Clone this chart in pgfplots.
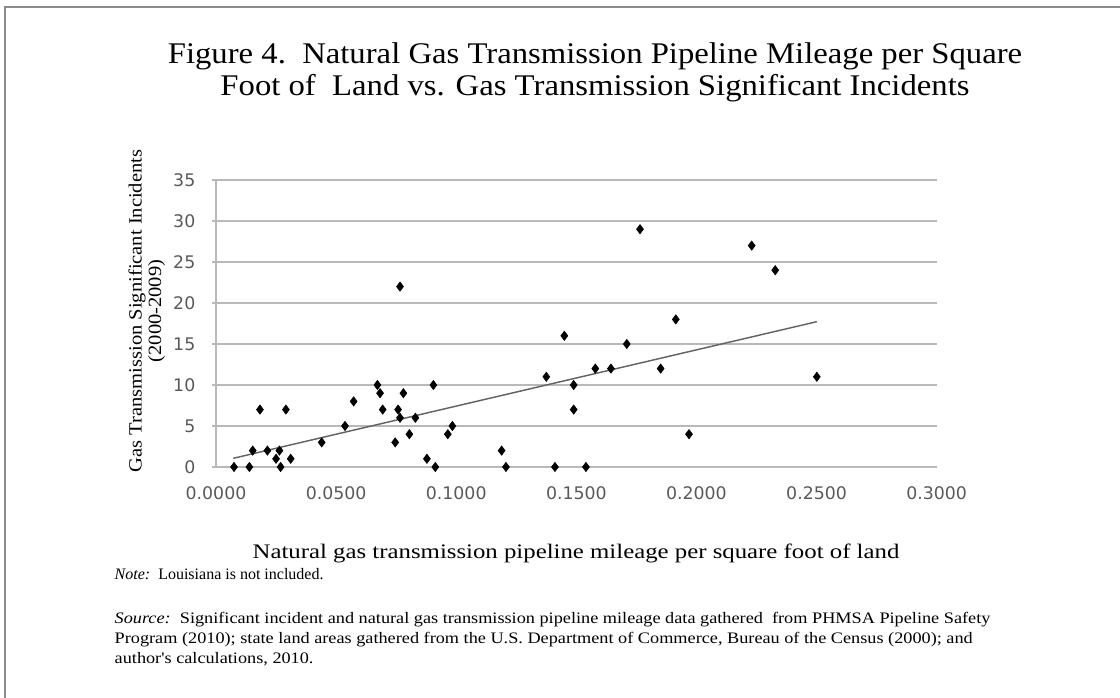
\documentclass[border=0pt]{standalone}
\usepackage{fontspec}
\setmainfont{Liberation Serif}
\newfontfamily\ticfont{DejaVu Sans}
\newfontfamily\titlefont[FakeStretch=1.09]{Liberation Serif}
\newfontfamily\ylabfont[FakeStretch=1.1]{Liberation Serif}
\newfontfamily\xlabfont[FakeStretch=1.2]{Liberation Serif}
\newfontfamily\srcfont[FakeStretch=1.14]{Liberation Serif}
\usepackage{pgfplots}
\pgfplotsset{compat=1.18}
\definecolor{gridgray}{RGB}{185,185,185}
\definecolor{ticktext}{RGB}{89,89,89}
\definecolor{trend}{RGB}{100,100,100}
\definecolor{framegray}{RGB}{140,140,140}
\begin{document}
\begin{tikzpicture}
\path[use as bounding box] (0,0) rectangle (840pt,523.5pt);
\draw[framegray, line width=1.5pt] (3.75pt,0pt) -- (3.75pt,518.25pt) -- (840pt,518.25pt);
\begin{axis}[
  at={(162pt,173.25pt)}, anchor=south west,
  scale only axis, width=540.5pt, height=215.25pt,
  xmin=0, xmax=0.3, ymin=0, ymax=35,
  xtick={0,0.05,0.1,0.15,0.2,0.25,0.3},
  xticklabels={0.0000,0.0500,0.1000,0.1500,0.2000,0.2500,0.3000},
  ytick={0,5,10,15,20,25,30,35},
  yticklabels={0,5,10,15,20,25,30,35},
  axis x line*=bottom, axis y line*=left,
  axis line style={gridgray, line width=1.1pt},
  ymajorgrids, grid style={gridgray, line width=1.1pt},
  xtick style={draw=none},
  ytick style={draw=gridgray, line width=1.1pt},
  tick align=outside, major tick length=3pt,
  tick label style={font=\ticfont\fontsize{13}{15}\selectfont, text=ticktext},
  xticklabel style={yshift=-8pt},
  yticklabel style={xshift=-9pt},
  clip=false,
]
\addplot[only marks, mark=diamond*, mark size=3.5pt, black] coordinates {
(0.0075,0) (0.0139,0) (0.0153,2) (0.0183,7) (0.0214,2) (0.0250,1) (0.0264,2)
(0.0269,0) (0.0291,7) (0.0311,1) (0.0440,3) (0.0537,5) (0.0573,8) (0.0672,10)
(0.0683,9) (0.0694,7) (0.0746,3) (0.0758,7) (0.0766,22) (0.0766,6) (0.0780,9)
(0.0805,4) (0.0830,6) (0.0878,1) (0.0905,10) (0.0913,0) (0.0965,4) (0.0984,5)
(0.1189,2) (0.1207,0) (0.1375,11) (0.1411,0) (0.1450,16) (0.1489,7) (0.1489,10)
(0.1540,0) (0.1579,12) (0.1644,12) (0.1710,15) (0.1765,29) (0.1851,12) (0.1914,18)
(0.1969,4) (0.2230,27) (0.2328,24) (0.2501,11)
};
\addplot[trend, line width=1.1pt] coordinates {(0.0072,1.06) (0.2501,17.72)};
\end{axis}
% title
\node[anchor=base, font=\titlefont\fontsize{22.5}{26}\selectfont] at (446.25pt,476pt) {Figure 4.\ \ Natural Gas Transmission Pipeline Mileage per Square};
\node[anchor=base, font=\titlefont\fontsize{22.5}{26}\selectfont] at (446.25pt,451.5pt) {Foot of \ Land vs. Gas Transmission Significant Incidents};
% y label
\node[rotate=90, font=\ylabfont\fontsize{14}{16}\selectfont] at (102.75pt,290.25pt) {Gas Transmission Significant Incidents};
\node[rotate=90, font=\ylabfont\fontsize{14}{16}\selectfont] at (117.5pt,290.25pt) {(2000-2009)};
% x label
\node[font=\xlabfont\fontsize{15.5}{18}\selectfont] at (432pt,108.75pt) {Natural gas transmission pipeline mileage per square foot of land};
% note
\node[anchor=base west, font=\fontsize{12}{14}\selectfont] at (82.5pt,89pt) {\textit{Note:}\ \ Louisiana is not included.};
\node[anchor=base west, font=\srcfont\fontsize{12}{14}\selectfont] at (82.5pt,56pt) {\textit{Source:}\ \ Significant incident and natural gas transmission pipeline mileage data gathered\ \ from PHMSA Pipeline Safety};
\node[anchor=base west, font=\srcfont\fontsize{12}{14}\selectfont] at (82.5pt,40.5pt) {Program (2010); state land areas gathered from the U.S. Department of Commerce, Bureau of the Census (2000); and};
\node[anchor=base west, font=\srcfont\fontsize{12}{14}\selectfont] at (82.5pt,25.5pt) {author's calculations, 2010.};
\end{tikzpicture}
\end{document}
